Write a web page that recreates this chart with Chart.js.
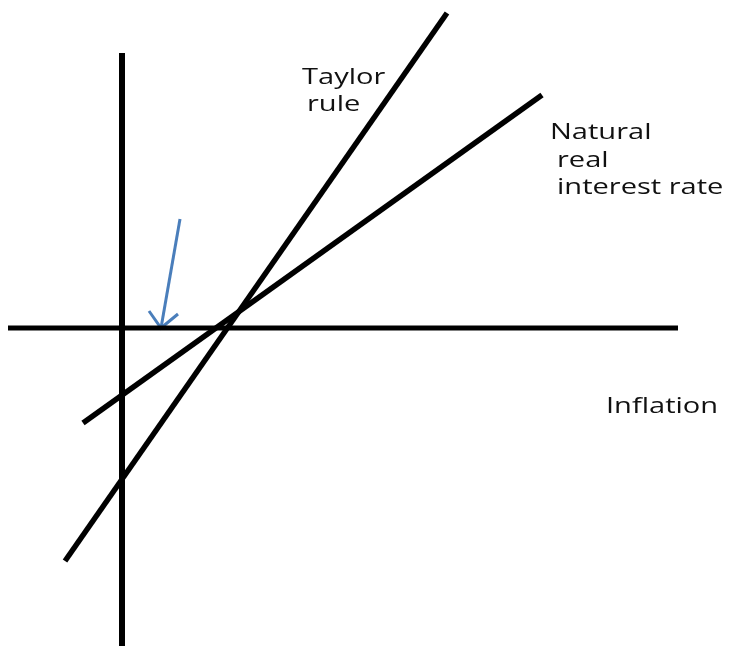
<!DOCTYPE html>
<html>
<head>
<meta charset="utf-8">
<script src="https://cdn.jsdelivr.net/npm/chart.js@4"></script>
<style>
  html, body { margin: 0; padding: 0; background: #fff; }
  #wrap { width: 729px; height: 646px; position: relative; }
</style>
</head>
<body>
<div id="wrap"><canvas id="taylor-chart"></canvas></div>
<script>
// origin = where the two axes cross, y goes up
const horizAxisX = [-114, 556];
const horizAxisY = [0, 0];
const vertAxisX = [0, 0];
const vertAxisY = [275, -325];
const taylorX = [-57, 325];
const taylorY = [-233, 315];
const naturalX = [-39, 420];
const naturalY = [-95, 233];
const arrowX = [58, 39];
const arrowY = [109, 0];
const arrowHeadX = [27, 39, 56];
const arrowHeadY = [17, 0, 14];
const labelTexts = ['Taylor', 'rule', 'Natural', 'real', 'interest rate', 'Inflation'];

const toPoints = (xs, ys) => xs.map((x, i) => ({ x: x, y: ys[i] }));

function lineSet(xs, ys, color, width) {
    return {
        data: toPoints(xs, ys),
        showLine: true,
        borderColor: color,
        borderWidth: width,
        pointRadius: 0,
        pointHoverRadius: 0,
        fill: false,
        tension: 0
    };
}

const textLabels = {
    id: 'textLabels',
    afterDatasetsDraw(chart, args, opts) {
        const ctx = chart.ctx;
        const xs = chart.scales.x;
        const ys = chart.scales.y;
        ctx.save();
        ctx.fillStyle = opts.color;
        ctx.font = opts.font;
        ctx.textBaseline = 'alphabetic';
        ctx.textAlign = 'left';
        opts.spots.forEach((p, i) => {
            const px = xs.getPixelForValue(p[0]);
            const py = ys.getPixelForValue(p[1]);
            ctx.save();
            ctx.translate(px, py);
            ctx.scale(opts.stretch, 1);
            ctx.fillText(labelTexts[i], 0, 0);
            ctx.restore();
        });
        ctx.restore();
    }
};

const blue = '#4a7ebb';

new Chart(document.getElementById('taylor-chart').getContext('2d'), {
    type: 'scatter',
    data: {
        datasets: [
            lineSet(horizAxisX, horizAxisY, '#000', 5),
            lineSet(vertAxisX, vertAxisY, '#000', 6),
            lineSet(naturalX, naturalY, '#000', 5.5),
            lineSet(taylorX, taylorY, '#000', 5.5),
            lineSet(arrowX, arrowY, blue, 3),
            lineSet(arrowHeadX, arrowHeadY, blue, 3)
        ]
    },
    options: {
        responsive: true,
        maintainAspectRatio: false,
        animation: false,
        layout: { padding: 0 },
        events: [],
        plugins: {
            legend: { display: false },
            tooltip: { enabled: false },
            textLabels: {
                color: '#111',
                font: '22px "Open Sans"',
                stretch: 1.32,
                spots: [[180, 244], [185, 217], [428, 189], [435, 161], [435, 134], [484, -85]]
            }
        },
        scales: {
            x: { type: 'linear', display: false, min: -122, max: 607 },
            y: { type: 'linear', display: false, min: -318, max: 328 }
        }
    },
    plugins: [textLabels]
});
</script>
</body>
</html>
